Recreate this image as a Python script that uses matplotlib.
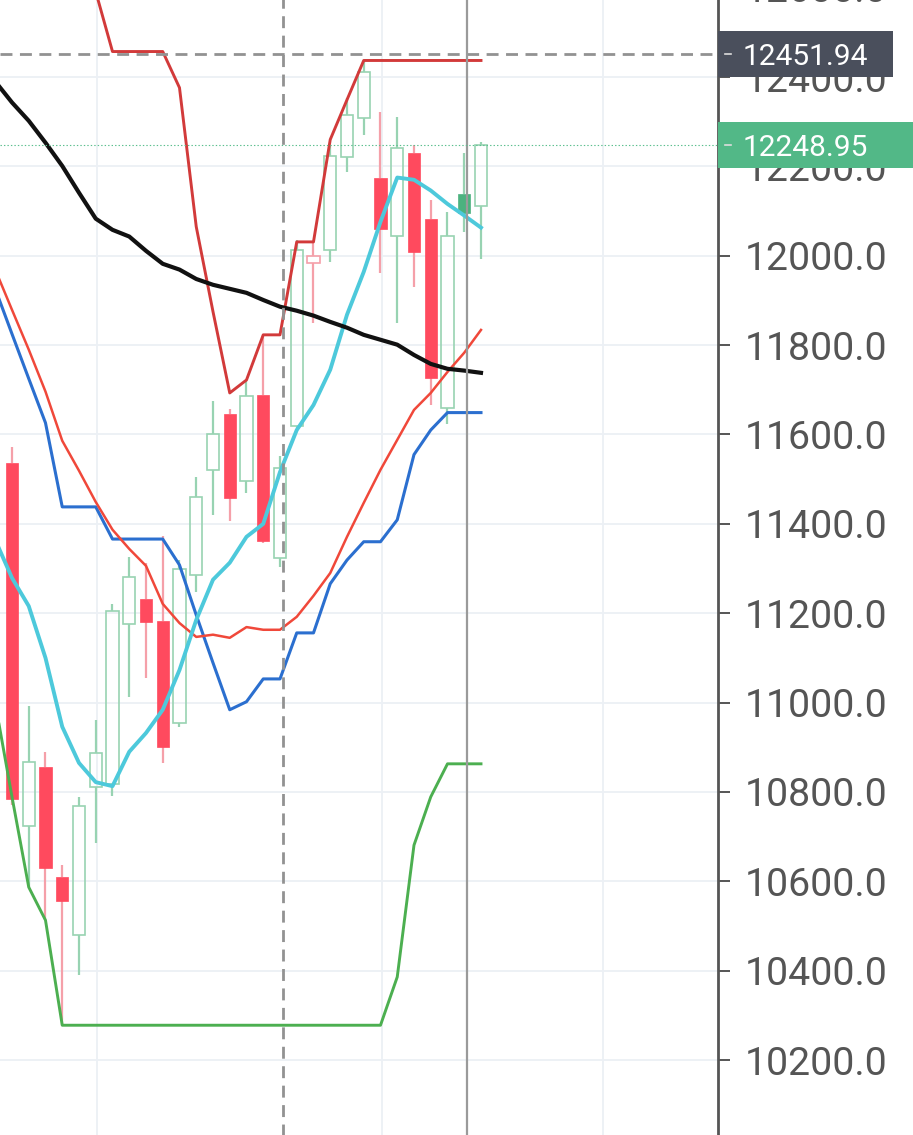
import numpy as np
import matplotlib.pyplot as plt
from matplotlib.patches import Rectangle
from matplotlib.lines import Line2D
from matplotlib.transforms import IdentityTransform

plt.rcParams['font.family'] = ['Roboto', 'DejaVu Sans']
plt.rcParams['lines.scale_dashes'] = False

# candles (index 0..28)
opens = [11537, 10724, 10856, 10610, 10480, 10811, 10818, 11176, 11232, 11183,
         10955, 11286, 11521, 11646, 11496, 11689, 11324, 11619, 11984, 12013,
         12222, 12309, 12175, 12045, 12231, 12083, 11660, 12139, 12112]
highs = [11572, 10993, 10890, 10637, 10789, 10961, 11221, 11326, 11313, 11373,
         11319, 11505, 11675, 11657, 11722, 11823, 11552, 12036, 12034, 12248,
         12354, 12434, 12322, 12311, 12248, 12125, 12098, 12231, 12255]
lows = [10771, 10587, 10513, 10278, 10390, 10686, 10791, 11013, 11055, 10865,
        10946, 11248, 11420, 11407, 11469, 11357, 11304, 11615, 11850, 11987,
        12188, 12271, 11962, 11850, 11931, 11666, 11624, 12054, 11993]
closes = [10784, 10867, 10630, 10556, 10769, 10887, 11205, 11281, 11181, 10901,
          11299, 11460, 11602, 11458, 11687, 11362, 11525, 12013, 12000, 12224,
          12316, 12412, 12060, 12242, 12009, 11727, 12045, 12096, 12248.95]

# indicator lines (index -1..28)
ma_long = [12390, 12343, 12302, 12253, 12201, 12141, 12083, 12058, 12043, 12011,
           11982, 11969, 11948, 11935, 11926, 11917, 11901, 11886, 11877, 11866,
           11852, 11839, 11823, 11812, 11801, 11778, 11758, 11747, 11743, 11738]
ma_fast = [11364, 11279, 11216, 11100, 10946, 10865, 10822, 10813, 10890, 10932,
           10984, 11073, 11185, 11275, 11313, 11371, 11400, 11516, 11610, 11666,
           11745, 11868, 11964, 12076, 12175, 12170, 12146, 12116, 12090, 12063]
ma_mid = [11969, 11879, 11790, 11696, 11586, 11519, 11449, 11387, 11344, 11306,
          11221, 11178, 11147, 11152, 11145, 11169, 11163, 11163, 11192, 11239,
          11290, 11371, 11447, 11521, 11588, 11655, 11693, 11740, 11783, 11834]
base_line = [11926, 11825, 11725, 11626, 11438, 11438, 11438, 11366, 11366, 11366,
             11366, 11308, 11196, 11089, 10984, 11002, 11053, 11053, 11156, 11156,
             11266, 11319, 11360, 11360, 11409, 11555, 11610, 11649, 11649, 11649]
lowest = [10999, 10789, 10587, 10513] + [10278] * 20 + [10386, 10681, 10789, 10863, 10863, 10863]
# upper band (index 5..28)
highest = [12591, 12457, 12457, 12457, 12457, 12376, 12065, 11875, 11693, 11722,
           11823, 11823, 12031, 12031, 12260, 12349] + [12437] * 8

cross_price = 12451.94
last_price = 12248.95
cross_x = 16.15
marker_x = 27.18
y_ticks = np.arange(10000, 12601, 200)

W, H = 913, 1135
fig = plt.figure(figsize=(W / 100, H / 100), dpi=100)
fig.patch.set_facecolor('white')
ax = fig.add_axes([0, -52 / H, 718 / W, 1247 / H])
ax.set_xlim(-0.716, 42.15)
ax.set_ylim(9916, 12706.6)

# grid
ax.set_xticks([5.07, 22.09, 35.28])
ax.set_yticks(y_ticks)
ax.set_yticklabels([f'{v:.1f}' for v in y_ticks])
ax.grid(True, color='#ecf0f5', linewidth=1.3)
ax.set_axisbelow(True)
ax.tick_params(axis='x', length=0, labelbottom=False)
ax.yaxis.tick_right()
ax.tick_params(axis='y', direction='out', length=8.6, width=1.4, color='#555555',
               pad=10.5, labelsize=28.3, labelcolor='#555555')
for s in ['left', 'top', 'bottom']:
    ax.spines[s].set_visible(False)
ax.spines['right'].set_color('#555555')
ax.spines['right'].set_linewidth(2.0)

# candles
red, red_soft = '#ff4a5e', '#f5a0a9'
green, green_soft = '#4cb27f', '#98d3b2'
bw = 0.72
for i in range(len(opens)):
    o, h, l, c = opens[i], highs[i], lows[i], closes[i]
    prev = closes[i - 1] if i > 0 else o
    up_col = c >= prev
    filled = c < o
    top, bot = max(o, c), min(o, c)
    wick = green_soft if up_col else red_soft
    ax.vlines(i, top, h, color=wick, linewidth=1.6, zorder=2)
    ax.vlines(i, l, bot, color=wick, linewidth=1.6, zorder=2)
    if filled:
        col = green if up_col else red
        ax.add_patch(Rectangle((i - bw / 2, bot), bw, top - bot, facecolor=col,
                               edgecolor=col, linewidth=0.5, zorder=2))
    else:
        ax.add_patch(Rectangle((i - bw / 2, bot), bw, max(top - bot, 1), facecolor='none',
                               edgecolor=wick, linewidth=1.2, zorder=2))

# indicators
xl = np.arange(-1, 29)
ax.plot(xl, lowest, color='#4caf50', linewidth=2.1, zorder=3)
ax.plot(np.arange(5, 29), highest, color='#d23a3a', linewidth=2.1, zorder=3)
ax.plot(xl, base_line, color='#2b6fcf', linewidth=2.2, zorder=3)
ax.plot(xl, ma_mid, color='#f0483a', linewidth=1.8, zorder=3)
ax.plot(xl, ma_fast, color='#4dc9db', linewidth=2.8, zorder=3)
ax.plot(xl, ma_long, color='#111111', linewidth=3.0, zorder=3)

# crosshair, marker line, last price
ax.axhline(cross_price, color='#929292', linewidth=2.0, dashes=(8.6, 5.4), zorder=4)
ax.axvline(cross_x, color='#929292', linewidth=2.0, dashes=(8.6, 5.4), zorder=4)
ax.axvline(marker_x, color='#9a9a9a', linewidth=1.6, zorder=4)
ax.axhline(last_price, color='#5bbf8e', linewidth=0.8, linestyle=(0, (1, 1.5)), zorder=4)

# price tags on the axis
for val, col, w in [(cross_price, '#4a4f5c', 175), (last_price, '#52b887', 195)]:
    yp = ax.transData.transform((0, val))[1]
    fig.add_artist(Rectangle((718, yp - 23), w, 46, transform=IdentityTransform(),
                             facecolor=col, edgecolor='none', zorder=5))
    fig.add_artist(Line2D([725, 731], [yp, yp], transform=IdentityTransform(),
                          color='#dddddd', linewidth=1.2, zorder=6))
    fig.text(743, yp, f'{val:.2f}', transform=IdentityTransform(), color='white',
             fontsize=21.5, va='center_baseline', ha='left', zorder=6)

fig.savefig('out.png', dpi=100)
